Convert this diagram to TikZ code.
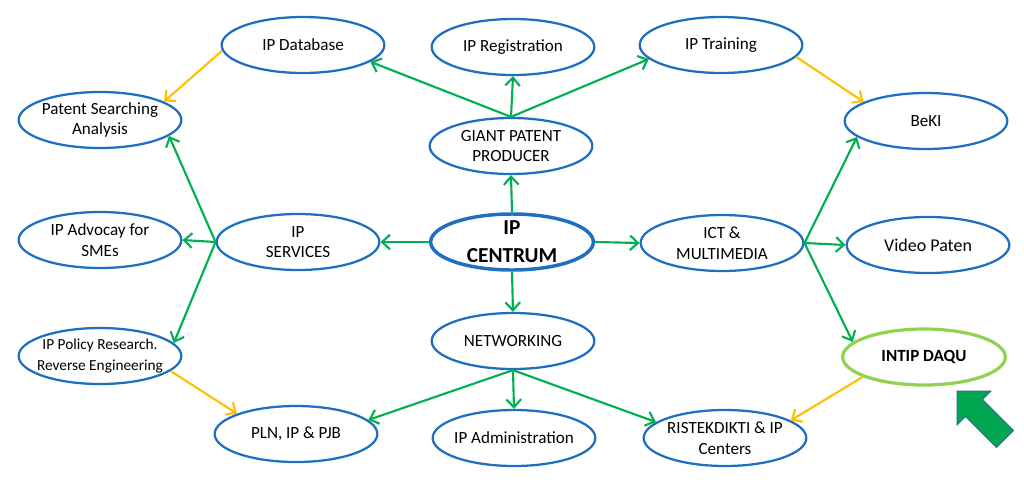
\documentclass[tikz,border=0pt]{standalone}
\usepackage{fontspec}
\setmainfont{Carlito}
\usetikzlibrary{shapes.geometric,arrows.meta}
\definecolor{ovalBlue}{HTML}{1F6FC0}
\definecolor{linkGreen}{HTML}{00B050}
\definecolor{linkOrange}{HTML}{FFC000}
\definecolor{limeGreen}{HTML}{92D050}
\definecolor{arrowGreen}{HTML}{00A650}
\definecolor{edgeBlue}{HTML}{3A5BA0}

\begin{document}
\begin{tikzpicture}[x=0.75pt,y=-0.75pt,%%
  ovalStyle/.style={ellipse,draw=ovalBlue,line width=1.7pt,minimum width=122pt,
    minimum height=42pt,inner xsep=-16pt,inner ysep=-4pt,align=center,
    font=\fontsize{12.8}{15.6}\selectfont},%%
  hubStyle/.style={ovalStyle,line width=2.6pt,font=\fontsize{16}{21}\selectfont\bfseries},%%
  daquStyle/.style={ovalStyle,draw=limeGreen,line width=2.4pt,
    font=\fontsize{12.8}{15.6}\selectfont\bfseries},%%
  greenLink/.style={draw=linkGreen,line width=1.6pt,-{Straight Barb[length=6pt,width=11pt]}},%%
  orangeLink/.style={greenLink,draw=linkOrange}
]
\useasboundingbox (0,0) rectangle (1024,486);
%%
%% The centre and its four branches.
\node[hubStyle] (ipCentrum) at (512,242) {IP\\CENTRUM};
\node[ovalStyle] (giantProducer) at (511,146) {GIANT PATENT\\PRODUCER};
\node[ovalStyle] (ipServices) at (298,242) {IP\\SERVICES};
\node[ovalStyle] (ictMedia) at (722,243) {ICT \&\\MULTIMEDIA};
\node[ovalStyle] (networking) at (513,341) {NETWORKING};
%% Top row.
\node[ovalStyle] (ipDatabase) at (303,45) {IP Database};
\node[ovalStyle] (ipRegistration) at (513,47) {IP Registration};
\node[ovalStyle] (ipTraining) at (721,45) {IP Training};
%% Left column.
\node[ovalStyle] (patentSearch) at (100,120) {Patent Searching\\Analysis};
\node[ovalStyle] (ipAdvocacy) at (100,240) {IP Advocay for\\SMEs};
\node[ovalStyle,font=\fontsize{11.5}{15.6}\selectfont] (ipPolicy) at (100,356)
  {IP Policy Research.\\Reverse Engineering};
%% Right column.
\node[ovalStyle] (beki) at (926,121) {BeKI};
\node[ovalStyle,font=\fontsize{13.5}{16}\selectfont] (videoPaten) at (928,245) {Video Paten};
\node[daquStyle] (intipDaqu) at (924,357) {INTIP DAQU};
%% Bottom row.
\node[ovalStyle] (plnPjb) at (296,434) {PLN, IP \& PJB};
\node[ovalStyle] (ipAdmin) at (514,438) {IP Administration};
\node[ovalStyle] (ristekCenters) at (725,438) {RISTEKDIKTI \& IP\\Centers};
%%
%% Green links.
\draw[greenLink] (ipCentrum.north) -- (giantProducer.south);
\draw[greenLink] (ipCentrum.west) -- (ipServices.east);
\draw[greenLink] (ipCentrum.east) -- (ictMedia.west);
\draw[greenLink] (ipCentrum.south) -- (networking.north);
%% GIANT PATENT PRODUCER
\draw[greenLink] (giantProducer.north) -- (ipDatabase.-14);
\draw[greenLink] (giantProducer.north) -- (ipRegistration.south);
\draw[greenLink] (giantProducer.north) -- (ipTraining.191);
%% IP SERVICES
\draw[greenLink] (ipServices.west) -- (patentSearch.-13);
\draw[greenLink] (ipServices.west) -- (ipAdvocacy.east);
\draw[greenLink] (ipServices.west) -- (ipPolicy.10);
%% ICT & MULTIMEDIA
\draw[greenLink] (ictMedia.east) -- (beki.193);
\draw[greenLink] (ictMedia.east) -- (videoPaten.west);
\draw[greenLink] (ictMedia.east) -- (intipDaqu.168);
%% NETWORKING
\draw[greenLink] (networking.south) -- (plnPjb.11);
\draw[greenLink] (networking.south) -- (ipAdmin.north);
\draw[greenLink] (networking.south) -- (ristekCenters.167);
%%
%% Orange links.
\draw[orangeLink] (ipDatabase.184) -- (patentSearch.16);
\draw[orangeLink] (ipTraining.-9) -- (beki.163);
\draw[orangeLink] (ipPolicy.-12) -- (plnPjb.161);
\draw[orangeLink] (intipDaqu.198) -- (ristekCenters.15);
%%
%% Block arrow pointing at INTIP DAQU.
\draw[fill=arrowGreen,draw=edgeBlue,line width=0.6pt] (957,391) -- (991,391)
  -- (982.5,399.5) -- (1013.5,430.5) -- (996.5,447.5) -- (965.5,416.5)
  -- (957,425) -- cycle;
\end{tikzpicture}
\end{document}
